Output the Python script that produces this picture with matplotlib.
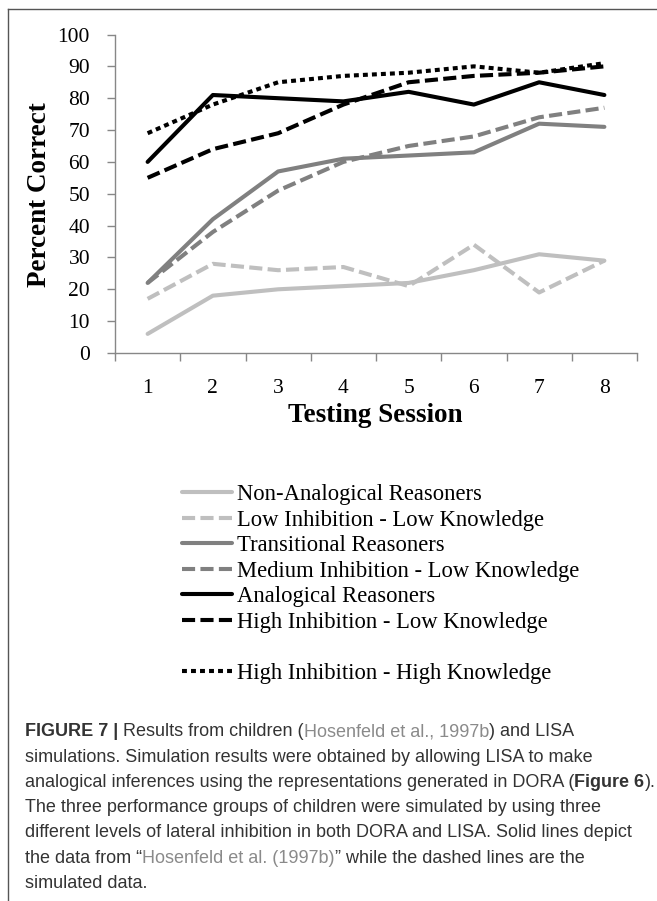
import matplotlib
matplotlib.use("Agg")
import matplotlib.pyplot as plt
from matplotlib.lines import Line2D

# data
sessions = [1, 2, 3, 4, 5, 6, 7, 8]
non_analogical = [6, 18, 20, 21, 22, 26, 31, 29]
low_inh_low_know = [17, 28, 26, 27, 21, 34, 19, 29]
transitional = [22, 42, 57, 61, 62, 63, 72, 71]
med_inh_low_know = [22, 38, 51, 60, 65, 68, 74, 77]
analogical = [60, 81, 80, 79, 82, 78, 85, 81]
high_inh_low_know = [55, 64, 69, 78, 85, 87, 88, 90]
high_inh_high_know = [69, 78, 85, 87, 88, 90, 88, 91]

labels = ["Non-Analogical Reasoners", "Low Inhibition - Low Knowledge",
          "Transitional Reasoners", "Medium Inhibition - Low Knowledge",
          "Analogical Reasoners", "High Inhibition - Low Knowledge",
          "High Inhibition - High Knowledge"]
yticks = list(range(0, 101, 10))

W, H = 657, 901
SERIF = ["Liberation Serif", "DejaVu Serif"]
SANS = ["Liberation Sans", "DejaVu Sans"]
DARK = "#333333"
LINK = "#8a8a8a"
AXC = "#878787"

fig = plt.figure(figsize=(W / 100, H / 100), dpi=100)

# frame around figure + caption
fig.add_artist(Line2D([8 / W, 8 / W], [0, 1 - 9 / H], color="#555555", lw=1.0))
fig.add_artist(Line2D([8 / W, 1], [1 - 9 / H, 1 - 9 / H], color="#555555", lw=1.0))

ax = fig.add_axes([115 / W, 1 - 353 / H, (637 - 115) / W, (353 - 34.5) / H])

dash = (3.2, 1.3)
dot = (1.2, 1.0)
series = [
    (non_analogical, "#bfbfbf", None),
    (low_inh_low_know, "#bfbfbf", dash),
    (transitional, "#808080", None),
    (med_inh_low_know, "#808080", dash),
    (analogical, "#000000", None),
    (high_inh_low_know, "#000000", dash),
    (high_inh_high_know, "#000000", dot),
]
handles = []
for (vals, col, ds), lab in zip(series, labels):
    ln, = ax.plot(sessions, vals, color=col, lw=2.95, label=lab,
                  solid_capstyle="round", solid_joinstyle="round",
                  dash_capstyle="butt")
    if ds is not None:
        ln.set_dashes(ds)
    handles.append(ln)

ax.set_xlim(0.5, 8.5)
ax.set_ylim(0, 100)
ax.set_yticks(yticks)
ax.set_xticks(sessions)
ax.set_xticks([s + 0.5 for s in [0] + sessions], minor=True)
for s in ["top", "right"]:
    ax.spines[s].set_visible(False)
for s in ["left", "bottom"]:
    ax.spines[s].set_color(AXC)
    ax.spines[s].set_linewidth(1.0)
ax.tick_params(axis="y", direction="out", length=6, width=1.0, color=AXC, pad=12)
ax.tick_params(axis="x", which="major", length=0, pad=19)
ax.tick_params(axis="x", which="minor", direction="out", length=6, width=1.0, color=AXC)
for t in ax.get_xticklabels() + ax.get_yticklabels():
    t.set_fontfamily(SERIF)
    t.set_fontsize(15.5)

fig.text(375.5 / W, 1 - 415 / H, "Testing Session", family=SERIF, fontsize=19.5,
         fontweight="bold", ha="center", va="center")
fig.text(40 / W, 1 - 195 / H, "Percent Correct", family=SERIF, fontsize=19.5,
         fontweight="bold", ha="center", va="center", rotation=90)

# legend, with the blank row Excel leaves before the last entry
blank = Line2D([], [], color="none")
leg_handles = handles[:6] + [blank] + handles[6:]
leg_labels = labels[:6] + [" "] + labels[6:]
fig.legend(leg_handles, leg_labels, loc="upper left",
           bbox_to_anchor=(182 / W, 1 - 484 / H), frameon=False,
           borderpad=0, borderaxespad=0, handlelength=2.2, handletextpad=0.22,
           labelspacing=0.2, prop={"family": SERIF, "size": 16.3})

# caption
caption = [
    [("FIGURE 7 |", DARK, "bold"), (" Results from children (", DARK, "normal"),
     ("Hosenfeld et al., 1997b", LINK, "normal"), (") and LISA", DARK, "normal")],
    [("simulations. Simulation results were obtained by allowing LISA to make", DARK, "normal")],
    [("analogical inferences using the representations generated in DORA (", DARK, "normal"),
     ("Figure 6", DARK, "bold"), (").", DARK, "normal")],
    [("The three performance groups of children were simulated by using three", DARK, "normal")],
    [("different levels of lateral inhibition in both DORA and LISA. Solid lines depict", DARK, "normal")],
    [("the data from \u201c", DARK, "normal"), ("Hosenfeld et al. (1997b)", LINK, "normal"),
     ("\u201d while the dashed lines are the", DARK, "normal")],
    [("simulated data.", DARK, "normal")],
]
cap_size = 13
renderer = fig.canvas.get_renderer()
probe = fig.text(0, 0, "", family=SANS, fontsize=cap_size)


def seg_width(txt, weight):
    probe.set_fontweight(weight)
    probe.set_text("|" + txt + "|")
    w1 = probe.get_window_extent(renderer).width
    probe.set_text("||")
    w0 = probe.get_window_extent(renderer).width
    return w1 - w0


y = 732
for line in caption:
    x = 25
    for txt, col, wt in line:
        fig.text(x / W, 1 - y / H, txt, family=SANS, fontsize=cap_size, color=col,
                 fontweight=wt, ha="left", va="center")
        x += seg_width(txt, wt)
    y += 25.2
probe.set_text("")

fig.savefig("out.png", dpi=100)
